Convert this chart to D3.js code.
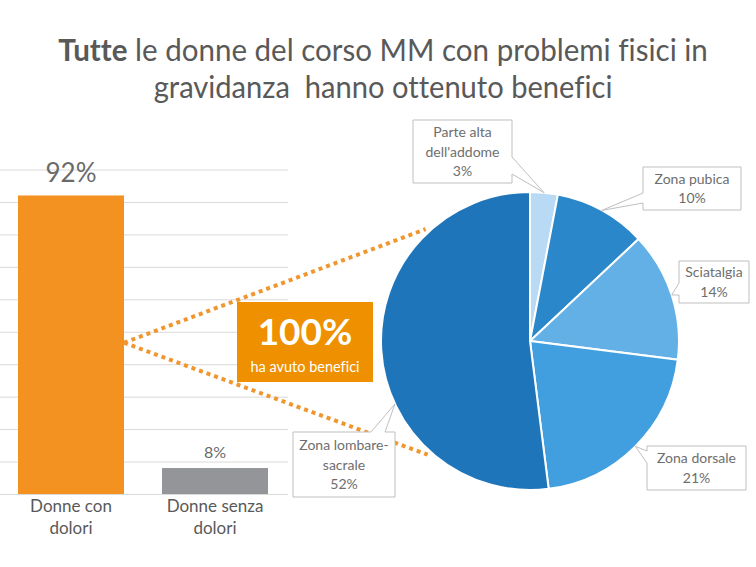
<!DOCTYPE html>
<html lang="it">
<head>
  <meta charset="utf-8">
  <title>Benefici in gravidanza</title>
  <script src="https://d3js.org/d3.v7.min.js" charset="utf-8"></script>
  <style type="text/css">
    body { margin: 0; background: #fff; }
    svg { display: block; font-family: Lato, "Open Sans", sans-serif; font-variant-ligatures: none; }
  </style>
</head>
<body>
  <svg id="chart" width="756" height="567" xmlns="http://www.w3.org/2000/svg"></svg>
  <script type="text/javascript">
    // --- data ---
    var barCategories = ["Donne con dolori", "Donne senza dolori"];
    var barLabelLines = [["Donne con", "dolori"], ["Donne senza", "dolori"]];
    var barValues = [92, 8];
    var gridTicks = [0, 10, 20, 30, 40, 50, 60, 70, 80, 90, 100];

    var pieCategories = ["Parte alta dell'addome", "Zona pubica", "Sciatalgia", "Zona dorsale", "Zona lombare-sacrale"];
    var pieLabelLines = [["Parte alta", "dell'addome"], ["Zona pubica"], ["Sciatalgia"], ["Zona dorsale"], ["Zona lombare-", "sacrale"]];
    var pieValues = [3, 10, 14, 21, 52];

    var benefitValue = 100;
    var benefitText = "ha avuto benefici";

    // --- layout / style ---
    var grey = "#595959";
    var barColors = ["#F39121", "#939598"];
    var pieColors = ["#B8DAF4", "#2A87CA", "#63B0E7", "#419EDF", "#1F75BA"];
    var pieCx = 530, pieCy = 341, pieR = 149;

    // callout boxes: box, side of the pointer, pointer base offsets, optional tip angle
    var callouts = [
      { x: 413, y: 120, w: 99, h: 63, side: "right", a: 37, b: 54 },
      { x: 643, y: 167, w: 98, h: 43, side: "left", a: 26, b: 36 },
      { x: 679, y: 261, w: 70, h: 42, side: "left", a: 22, b: 34 },
      { x: 647, y: 446, w: 99, h: 44, side: "left", a: 5, b: 17 },
      { x: 293, y: 432, w: 102, h: 65, side: "top", a: 78, b: 92, tipDeg: 245 }
    ];

    var svg = d3.select("#chart");
    svg.append("rect").attr("width", 756).attr("height", 567).attr("fill", "#fff");

    // --- title ---
    function fitLine(sel, cx, targetW) {
      var w = sel.node().getComputedTextLength();
      sel.attr("transform", "translate(" + cx + ",0) scale(" + (targetW / w) + ",1)");
    }
    var t1 = svg.append("text")
      .attr("x", 0).attr("y", 61)
      .attr("text-anchor", "middle")
      .attr("font-size", "30px")
      .attr("fill", grey);
    t1.append("tspan").attr("font-weight", "bold").text("Tutte");
    t1.append("tspan").text(" le donne del corso MM con problemi fisici in");
    fitLine(t1, 383, 650);

    var t2 = svg.append("text")
      .attr("x", 0).attr("y", 98)
      .attr("text-anchor", "middle")
      .attr("font-size", "30px")
      .attr("fill", grey)
      .attr("xml:space", "preserve")
      .text("gravidanza  hanno ottenuto benefici");
    fitLine(t2, 383, 459);

    // --- bar chart ---
    var x = d3.scaleBand()
      .domain(barCategories)
      .range([-1, 287])
      .paddingInner(0.264)
      .paddingOuter(0.132);

    var y = d3.scaleLinear().domain([0, 100]).range([494, 169.5]);

    var grid = svg.append("g")
      .call(d3.axisRight(y).tickValues(gridTicks).tickSize(288).tickFormat(""));
    grid.select(".domain").remove();
    grid.selectAll(".tick line").attr("stroke", "#d9d9d9").attr("stroke-width", 1);

    // dotted connectors, drawn behind the box and the pie
    function piePoint(deg, r) {
      var a = deg * Math.PI / 180;
      return [pieCx + r * Math.sin(a), pieCy - r * Math.cos(a)];
    }
    var connStart = [x(barCategories[0]) + x.bandwidth(), y(barValues[0] / 2) - 2];
    var connEnds = [piePoint(317, pieR + 4), piePoint(222, pieR + 4)];
    svg.append("g").selectAll("line")
      .data(connEnds)
      .join("line")
      .attr("x1", connStart[0]).attr("y1", connStart[1])
      .attr("x2", function(d) { return d[0]; })
      .attr("y2", function(d) { return d[1]; })
      .attr("stroke", "#F0962F")
      .attr("stroke-width", 4)
      .attr("stroke-dasharray", "4 4");

    svg.append("g").selectAll("rect")
      .data(barValues)
      .join("rect")
      .attr("x", function(d, i) { return x(barCategories[i]); })
      .attr("y", function(d) { return y(d); })
      .attr("width", x.bandwidth())
      .attr("height", function(d) { return y(0) - y(d); })
      .attr("fill", function(d, i) { return barColors[i]; });

    svg.append("g").selectAll("text")
      .data(barValues)
      .join("text")
      .attr("x", function(d, i) { return x(barCategories[i]) + x.bandwidth() / 2; })
      .attr("y", function(d, i) { return y(d) - (i === 0 ? 13 : 10); })
      .attr("text-anchor", "middle")
      .attr("font-size", function(d, i) { return i === 0 ? "26px" : "16px"; })
      .attr("fill", "#6a6a6a")
      .text(function(d) { return d + "%"; });

    var catLabels = svg.append("g").selectAll("text")
      .data(barLabelLines)
      .join("text")
      .attr("text-anchor", "middle")
      .attr("font-size", "17px")
      .attr("fill", grey);
    catLabels.selectAll("tspan")
      .data(function(d, i) { return d.map(function(s) { return { s: s, i: i }; }); })
      .join("tspan")
      .attr("x", function(d) { return x(barCategories[d.i]) + x.bandwidth() / 2; })
      .attr("y", function(d, j) { return 512 + j * 22; })
      .text(function(d) { return d.s; });

    // --- 100% box ---
    svg.append("rect")
      .attr("x", 237).attr("y", 302).attr("width", 136).attr("height", 80)
      .attr("fill", "#EE9000");
    svg.append("text")
      .attr("x", 305).attr("y", 345)
      .attr("text-anchor", "middle")
      .attr("font-size", "37px")
      .attr("font-weight", "bold")
      .attr("fill", "#fff")
      .text(benefitValue + "%");
    svg.append("text")
      .attr("x", 305).attr("y", 372)
      .attr("text-anchor", "middle")
      .attr("font-size", "14.5px")
      .attr("fill", "#fff")
      .text(benefitText);

    // --- pie ---
    var pie = d3.pie().sort(null).value(function(d) { return d; });
    var arcs = pie(pieValues);
    var arc = d3.arc().innerRadius(0).outerRadius(pieR);

    svg.append("g")
      .attr("transform", "translate(" + pieCx + "," + pieCy + ")")
      .selectAll("path")
      .data(arcs)
      .join("path")
      .attr("d", arc)
      .attr("fill", function(d, i) { return pieColors[i]; })
      .attr("stroke", "#fff")
      .attr("stroke-width", 2);

    function calloutPath(b, tip) {
      var x0 = b.x, y0 = b.y, x1 = b.x + b.w, y1 = b.y + b.h;
      var p = [[x0, y0]];
      if (b.side === "top") p.push([x0 + b.a, y0], tip, [x0 + b.b, y0]);
      p.push([x1, y0]);
      if (b.side === "right") p.push([x1, y0 + b.a], tip, [x1, y0 + b.b]);
      p.push([x1, y1]);
      if (b.side === "bottom") p.push([x0 + b.b, y1], tip, [x0 + b.a, y1]);
      p.push([x0, y1]);
      if (b.side === "left") p.push([x0, y0 + b.b], tip, [x0, y0 + b.a]);
      return d3.line()(p) + "Z";
    }

    var labels = svg.append("g").selectAll("g")
      .data(arcs)
      .join("g");

    labels.append("path")
      .attr("d", function(d, i) {
        var c = callouts[i];
        var deg = c.tipDeg !== undefined ? c.tipDeg : (d.startAngle + d.endAngle) / 2 * 180 / Math.PI;
        return calloutPath(c, piePoint(deg, pieR));
      })
      .attr("fill", "#fff")
      .attr("stroke", "#bfbfbf")
      .attr("stroke-width", 1);

    var lt = labels.append("text")
      .attr("text-anchor", "middle")
      .attr("font-size", "14px")
      .attr("fill", "#6e6e6e");
    lt.selectAll("tspan")
      .data(function(d, i) {
        var lines = pieLabelLines[i].concat([d.data + "%"]);
        var c = callouts[i];
        var top = c.y + c.h / 2 - (lines.length - 1) * 19.5 / 2 + 5;
        return lines.map(function(s, j) { return { s: s, x: c.x + c.w / 2, y: top + j * 19.5 }; });
      })
      .join("tspan")
      .attr("x", function(d) { return d.x; })
      .attr("y", function(d) { return d.y; })
      .text(function(d) { return d.s; });
  </script>
</body>
</html>
